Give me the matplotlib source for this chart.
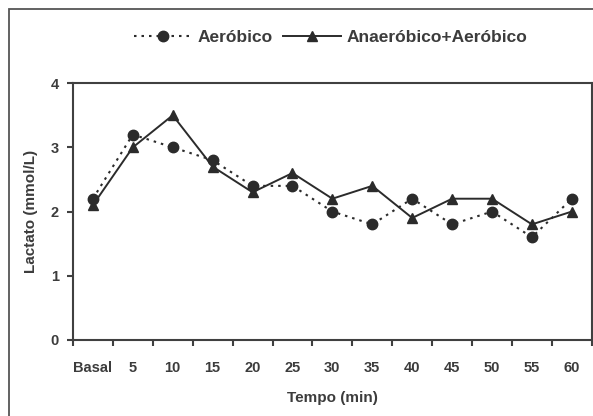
import matplotlib.pyplot as plt
from matplotlib.patches import Rectangle

# Dados
tempos = ['Basal', '5', '10', '15', '20', '25', '30', '35', '40', '45', '50', '55', '60']
aerobico = [2.2, 3.2, 3.0, 2.8, 2.4, 2.4, 2.0, 1.8, 2.2, 1.8, 2.0, 1.6, 2.2]
anaerobico_aerobico = [2.1, 3.0, 3.5, 2.7, 2.3, 2.6, 2.2, 2.4, 1.9, 2.2, 2.2, 1.8, 2.0]

cor_texto = '#3c3c3c'
cor_linha = '#2b2b2b'
plt.rcParams['font.family'] = ['Liberation Sans', 'DejaVu Sans']

fig = plt.figure(figsize=(5.93, 4.16), dpi=100)
ax = fig.add_axes([0.123, 0.183, 0.875, 0.617])

# moldura do grafico (estilo Excel)
fig.patches.append(Rectangle((9 / 593, -0.1), 1.2, 1.1 - 9 / 416, transform=fig.transFigure,
                             fill=False, edgecolor='#555555', linewidth=1.3))

x = list(range(len(tempos)))
ax.plot(x, aerobico, linestyle=(0, (1.2, 2.4)), color=cor_linha, linewidth=1.5,
        marker='o', markersize=7.5, label='Aeróbico')
ax.plot(x, anaerobico_aerobico, linestyle='-', color=cor_linha, linewidth=1.4,
        marker='^', markersize=7.5, label='Anaeróbico+Aeróbico')

ax.set_xlim(-0.5, len(tempos) - 0.5)
ax.set_ylim(0, 4)
ax.set_yticks([0, 1, 2, 3, 4])
ax.set_xticks(x)
ax.set_xticklabels(tempos)
ax.set_xticks([i + 0.5 for i in range(-1, len(tempos))], minor=True)
ax.tick_params(axis='x', which='major', length=0, pad=15)
ax.tick_params(axis='x', which='minor', length=4, width=1.5, color='#404040')
ax.tick_params(axis='y', length=4, width=1.5, color='#404040', pad=6)
for lab in ax.get_xticklabels() + ax.get_yticklabels():
    lab.set_fontsize(10.5)
    lab.set_fontweight('bold')
    lab.set_color(cor_texto)

for s in ax.spines.values():
    s.set_color('#404040')
    s.set_linewidth(1.5)

ax.set_ylabel('Lactato (mmol/L)', fontsize=11, fontweight='bold', color=cor_texto, labelpad=9)
ax.set_xlabel('Tempo (min)', fontsize=11, fontweight='bold', color=cor_texto, labelpad=12)

leg = fig.legend(loc='center', bbox_to_anchor=(0.558, 0.91), ncol=2, frameon=False,
                 handlelength=3.3, columnspacing=0.6, handletextpad=0.35,
                 prop={'weight': 'bold', 'size': 12.5})
for t in leg.get_texts():
    t.set_color(cor_texto)

fig.savefig('out.png', dpi=100)
